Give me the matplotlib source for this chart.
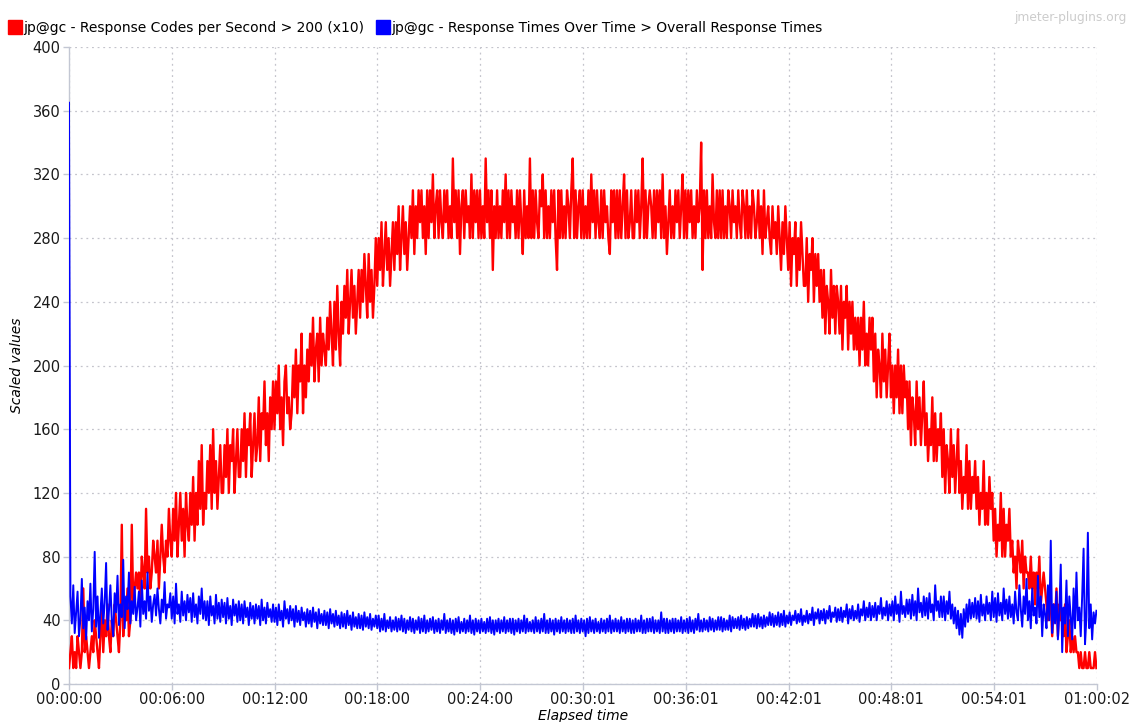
import numpy as np
import matplotlib.pyplot as plt
from matplotlib.lines import Line2D

# Samples every 5 seconds, one row per minute of the test
STEP_S = 5

# jp@gc - Response Codes per Second > 200 (plotted x10)
codes_200 = [
    1, 2, 3, 1, 2, 1, 3, 2, 1, 2, 6, 2,
    3, 2, 1, 2, 3, 2, 4, 3, 2, 1, 3, 5,
    2, 4, 3, 5, 3, 2, 4, 3, 5, 4, 3, 2,
    4, 10, 3, 5, 4, 6, 3, 4, 10, 5, 6, 7,
    6, 7, 5, 8, 7, 6, 11, 7, 8, 6, 7, 9,
    8, 7, 9, 6, 8, 10, 8, 7, 9, 8, 11, 9,
    8, 11, 9, 12, 8, 10, 12, 9, 11, 8, 12, 10,
    9, 12, 10, 13, 9, 12, 10, 14, 11, 15, 10, 12,
    11, 14, 12, 15, 11, 16, 12, 14, 11, 13, 15, 12,
    12, 15, 13, 16, 12, 15, 14, 16, 12, 14, 16, 13,
    13, 16, 14, 17, 13, 16, 15, 17, 13, 15, 17, 14,
    15, 18, 14, 17, 16, 19, 15, 17, 14, 18, 16, 19,
    16, 19, 17, 20, 16, 18, 15, 19, 20, 17, 18, 16,
    17, 20, 18, 21, 17, 20, 19, 22, 17, 20, 18, 21,
    19, 22, 20, 23, 19, 21, 22, 19, 23, 20, 22, 21,
    20, 23, 21, 24, 22, 20, 24, 21, 25, 22, 20, 24,
    22, 25, 23, 26, 22, 24, 26, 23, 25, 22, 24, 26,
    23, 26, 24, 27, 25, 23, 27, 24, 26, 23, 25, 28,
    25, 28, 26, 29, 25, 27, 29, 26, 28, 25, 27, 29,
    26, 29, 27, 30, 26, 28, 30, 27, 29, 26, 28, 30,
    28, 31, 27, 30, 28, 31, 29, 31, 28, 30, 27, 31,
    28, 31, 29, 32, 28, 30, 31, 28, 31, 29, 28, 31,
    29, 31, 28, 30, 28, 33, 29, 31, 28, 31, 27, 30,
    31, 28, 31, 29, 30, 28, 32, 28, 31, 29, 31, 28,
    31, 28, 30, 28, 33, 29, 31, 28, 31, 26, 30, 28,
    31, 28, 30, 28, 31, 29, 32, 28, 31, 28, 31, 29,
    30, 28, 31, 28, 31, 29, 27, 31, 28, 30, 28, 33,
    28, 31, 28, 31, 29, 28, 31, 30, 32, 28, 31, 28,
    30, 28, 31, 29, 31, 28, 26, 31, 28, 31, 28, 30,
    28, 31, 30, 28, 31, 33, 28, 31, 28, 30, 31, 28,
    31, 28, 30, 28, 31, 28, 32, 29, 31, 28, 31, 29,
    28, 31, 28, 31, 29, 30, 28, 27, 31, 29, 31, 28,
    31, 28, 31, 28, 30, 32, 28, 31, 28, 29, 31, 28,
    28, 31, 29, 31, 28, 30, 33, 28, 31, 28, 30, 31,
    30, 28, 31, 28, 31, 29, 31, 28, 32, 28, 30, 27,
    29, 31, 28, 30, 28, 31, 29, 31, 28, 30, 32, 28,
    31, 28, 31, 29, 31, 28, 30, 28, 31, 29, 30, 34,
    26, 31, 28, 31, 28, 30, 28, 32, 29, 28, 31, 28,
    31, 28, 31, 28, 30, 28, 31, 30, 28, 31, 29, 30,
    28, 31, 29, 28, 31, 30, 28, 31, 28, 30, 28, 31,
    30, 28, 29, 31, 28, 30, 27, 31, 28, 29, 30, 28,
    27, 30, 28, 29, 27, 30, 28, 26, 29, 27, 30, 28,
    26, 29, 25, 28, 27, 29, 25, 28, 26, 29, 27, 25,
    25, 28, 24, 27, 26, 28, 24, 27, 25, 27, 24, 26,
    23, 26, 22, 25, 24, 22, 26, 23, 25, 22, 25, 24,
    22, 25, 21, 24, 23, 25, 21, 24, 22, 24, 21, 23,
    21, 23, 20, 23, 21, 24, 20, 22, 20, 23, 21, 23,
    19, 22, 18, 21, 20, 18, 22, 19, 21, 18, 20, 22,
    18, 20, 17, 20, 18, 21, 17, 20, 17, 20, 18, 19,
    16, 19, 15, 18, 17, 15, 19, 16, 18, 15, 17, 19,
    15, 17, 14, 16, 15, 18, 14, 17, 14, 16, 15, 17,
    13, 16, 12, 15, 14, 12, 16, 13, 15, 12, 14, 16,
    12, 14, 11, 13, 12, 15, 11, 14, 11, 13, 12, 14,
    11, 13, 10, 12, 11, 14, 10, 12, 10, 13, 11, 12,
    9, 11, 8, 10, 9, 12, 8, 11, 8, 10, 9, 11,
    8, 9, 7, 8, 6, 9, 8, 7, 9, 6, 8, 7,
    7, 6, 8, 6, 7, 5, 7, 6, 8, 5, 6, 7,
    6, 5, 4, 6, 5, 3, 5, 4, 6, 3, 5, 4,
    4, 3, 5, 2, 3, 4, 2, 3, 2, 3, 2, 2,
    1, 2, 1, 1, 2, 1, 1, 2, 1, 1, 1, 2,
    1,
]
CODES_SCALE = 10

# jp@gc - Response Times Over Time > Overall Response Times (ms)
resp_times = [
    365, 55, 38, 62, 32, 45, 58, 30, 41, 66, 35, 48,
    28, 52, 40, 63, 33, 47, 83, 36, 55, 29, 44, 60,
    38, 51, 76, 34, 46, 62, 40, 30, 57, 45, 68, 37,
    50, 42, 78, 35, 55, 47, 70, 38, 52, 44, 61, 40,
    48, 58, 36, 65, 44, 52, 41, 70, 46, 55, 39, 50,
    56, 43, 60, 47, 38, 53, 45, 64, 41, 50, 48, 57,
    41, 55, 38, 63, 44, 50, 39, 58, 43, 52, 40, 56,
    45, 54, 39, 57, 42, 50, 38, 55, 44, 60, 41, 52,
    40, 52, 37, 55, 43, 49, 38, 56, 41, 51, 39, 53,
    42, 51, 38, 54, 41, 49, 37, 53, 43, 50, 39, 52,
    40, 50, 38, 52, 42, 48, 37, 51, 41, 49, 38, 50,
    41, 49, 37, 53, 40, 48, 38, 51, 42, 47, 39, 50,
    39, 48, 37, 50, 40, 46, 36, 52, 41, 47, 38, 49,
    40, 47, 36, 49, 39, 46, 37, 48, 40, 45, 36, 47,
    38, 46, 36, 48, 39, 45, 35, 47, 38, 44, 37, 46,
    37, 45, 35, 47, 38, 44, 36, 46, 37, 43, 35, 45,
    36, 44, 35, 46, 37, 43, 34, 45, 36, 42, 35, 44,
    35, 43, 34, 45, 36, 42, 35, 44, 34, 41, 36, 43,
    35, 43, 33, 41, 34, 44, 33, 40, 35, 42, 33, 40,
    34, 42, 33, 41, 34, 43, 33, 41, 32, 40, 34, 42,
    33, 41, 32, 40, 34, 42, 32, 41, 33, 43, 32, 40,
    33, 41, 34, 42, 32, 40, 33, 41, 32, 40, 34, 44,
    32, 40, 33, 41, 32, 40, 31, 41, 33, 42, 32, 39,
    33, 41, 32, 40, 33, 43, 32, 40, 31, 41, 33, 40,
    32, 41, 33, 39, 32, 41, 33, 42, 32, 40, 31, 40,
    33, 41, 32, 40, 33, 42, 32, 40, 33, 41, 32, 41,
    31, 40, 33, 41, 32, 40, 33, 43, 32, 41, 33, 39,
    33, 40, 32, 42, 33, 40, 32, 41, 33, 44, 32, 40,
    32, 41, 33, 40, 31, 41, 33, 40, 32, 42, 33, 40,
    32, 41, 33, 40, 32, 41, 32, 43, 33, 40, 32, 41,
    33, 40, 30, 41, 32, 42, 33, 40, 32, 41, 33, 39,
    32, 41, 33, 40, 32, 41, 33, 43, 32, 40, 33, 41,
    33, 40, 32, 42, 33, 40, 32, 41, 33, 41, 32, 40,
    32, 41, 33, 40, 33, 43, 32, 40, 32, 41, 33, 41,
    33, 42, 32, 40, 33, 40, 32, 45, 33, 41, 32, 41,
    32, 40, 33, 41, 32, 41, 33, 40, 33, 42, 32, 40,
    33, 41, 32, 42, 33, 40, 32, 41, 34, 44, 33, 40,
    33, 41, 34, 40, 33, 42, 34, 41, 33, 40, 34, 42,
    34, 42, 33, 41, 34, 40, 34, 43, 33, 42, 35, 41,
    35, 42, 34, 43, 35, 41, 34, 42, 35, 41, 36, 44,
    36, 43, 35, 44, 36, 42, 35, 43, 36, 42, 37, 45,
    37, 44, 36, 43, 37, 45, 36, 44, 37, 46, 36, 43,
    38, 45, 37, 43, 40, 46, 38, 44, 39, 47, 37, 43,
    39, 46, 38, 44, 40, 48, 37, 45, 41, 47, 38, 46,
    40, 47, 38, 46, 41, 49, 39, 45, 42, 48, 39, 47,
    40, 48, 39, 46, 42, 50, 38, 47, 41, 49, 40, 46,
    41, 50, 39, 47, 43, 52, 40, 48, 42, 51, 40, 49,
    42, 51, 40, 49, 44, 54, 41, 48, 43, 52, 40, 50,
    43, 52, 40, 55, 44, 50, 39, 58, 44, 49, 42, 53,
    44, 53, 41, 56, 43, 52, 40, 60, 45, 51, 42, 55,
    43, 54, 41, 57, 45, 50, 40, 62, 46, 52, 42, 55,
    42, 55, 40, 52, 44, 58, 41, 50, 38, 48, 35, 46,
    31, 44, 29, 47, 36, 50, 39, 53, 41, 51, 42, 54,
    41, 52, 39, 56, 43, 50, 40, 55, 44, 51, 40, 58,
    42, 54, 39, 57, 43, 51, 40, 60, 44, 53, 41, 55,
    42, 50, 38, 58, 45, 40, 62, 47, 36, 55, 44, 66,
    40, 52, 35, 60, 43, 48, 38, 68, 42, 55, 30, 50,
    44, 35, 62, 40, 90, 32, 50, 38, 58, 28, 46, 75,
    20, 48, 38, 65, 30, 55, 42, 28, 60, 35, 70, 40,
    48, 30, 55, 85, 25, 42, 95, 35, 50, 28, 45, 38,
    46,
]

x_tick_labels = ["00:00:00", "00:06:00", "00:12:00", "00:18:00", "00:24:00",
                 "00:30:01", "00:36:01", "00:42:01", "00:48:01", "00:54:01",
                 "01:00:02"]
TEST_LENGTH_S = 3602
y_ticks = list(range(0, 401, 40))

RED = "#ff0000"
BLUE = "#0000ff"
AXIS_COL = "#c3c7d3"
GRID_COL = "#c4c4cc"

plt.rcParams["path.simplify"] = False

t_codes = np.arange(len(codes_200)) * STEP_S
t_resp = np.arange(len(resp_times)) * STEP_S

fig = plt.figure(figsize=(11.29, 7.22), dpi=100)
ax = fig.add_axes([69 / 1129, 38 / 722, 1028 / 1129, 637 / 722])

ax.plot(t_codes, np.array(codes_200) * CODES_SCALE, color=RED, lw=1.7,
        zorder=3)
ax.plot(t_resp, resp_times, color=BLUE, lw=1.4, zorder=3)

ax.set_xlim(0, TEST_LENGTH_S)
ax.set_ylim(0, 400)
ax.set_xticks(np.linspace(0, TEST_LENGTH_S, len(x_tick_labels)))
ax.set_xticklabels(x_tick_labels)
ax.set_yticks(y_ticks)

# Java-style chart frame: only left/bottom axes, dotted grid
for side in ("top", "right"):
    ax.spines[side].set_visible(False)
for side in ("left", "bottom"):
    ax.spines[side].set_color(AXIS_COL)
    ax.spines[side].set_linewidth(1.0)
    ax.spines[side].set_zorder(2)
ax.tick_params(direction="out", length=4, width=1, color=AXIS_COL,
               labelsize=10.5, labelcolor="#1a1a1a", pad=2)
ax.grid(True, color=GRID_COL, linestyle=(0, (1.5, 3)), linewidth=0.9)
ax.set_axisbelow(True)

ax.set_ylabel("Scaled values", fontstyle="italic", fontsize=10, labelpad=6)
ax.set_xlabel("Elapsed time", fontstyle="italic", fontsize=10, labelpad=1)

handles = [
    Line2D([], [], marker="s", ls="none", color=RED, markersize=10),
    Line2D([], [], marker="s", ls="none", color=BLUE, markersize=10),
]
labels = ["jp@gc - Response Codes per Second > 200 (x10)",
          "jp@gc - Response Times Over Time > Overall Response Times"]
fig.legend(handles, labels, loc="upper left", bbox_to_anchor=(0.0, 0.985),
           ncol=2, frameon=False, fontsize=10, handlelength=0.8,
           handletextpad=0.2, columnspacing=0.9, borderaxespad=0.3)

fig.text(0.998, 0.976, "jmeter-plugins.org", ha="right", va="center",
         color="#cccccc", fontsize=8.8)

fig.savefig("out.png", dpi=100)
